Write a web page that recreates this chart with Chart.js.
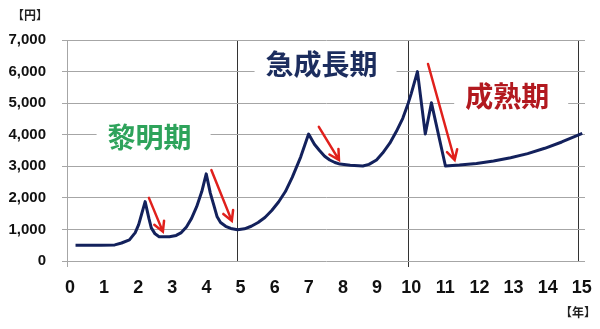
<!DOCTYPE html>
<html>
<head>
<meta charset="utf-8">
<script src="https://cdn.jsdelivr.net/npm/chart.js@4/dist/chart.umd.min.js"></script>
<style>
  html, body { margin: 0; padding: 0; background: #fff; }
  #wrap { width: 600px; height: 329px; }
</style>
</head>
<body>
<div id="wrap"><canvas id="cycleCanvas"></canvas></div>
<script>
// 年 (x) と 価格 (y)
const years = [
  0.25, 1.0, 1.4, 1.6, 1.83, 2.0, 2.1, 2.29, 2.4, 2.47, 2.58, 2.7, 3.0, 3.2, 3.35, 3.5, 3.65, 3.8, 3.95, 4.08,
  4.2, 4.3, 4.4, 4.5, 4.65, 4.8, 5.0, 5.2, 5.4, 5.6, 5.8, 6.0, 6.2, 6.4, 6.6, 6.85, 7.08,
  7.25, 7.4, 7.55, 7.7, 7.85, 8.0, 8.3, 8.67, 8.85, 9.07, 9.25, 9.46, 9.65, 9.84, 10.0, 10.09, 10.27,
  10.5, 10.68, 11.09, 11.5, 12.0, 12.5, 13.0, 13.5, 14.0, 14.5, 15.1
];
const prices = [
  500, 500, 510, 570, 670, 900, 1150, 1880, 1350, 1050, 860, 770, 770, 810, 900, 1080, 1350, 1720, 2200, 2760,
  2150, 1780, 1400, 1220, 1100, 1030, 990, 1020, 1100, 1220, 1380, 1600, 1870, 2200, 2650, 3300, 4020,
  3700, 3500, 3320, 3200, 3120, 3070, 3030, 3010, 3060, 3200, 3420, 3730, 4100, 4520, 5000, 5310, 6000,
  4020, 5010, 3010, 3040, 3090, 3170, 3270, 3400, 3570, 3770, 4040
];

const xTicks = [0, 1, 2, 3, 4, 5, 6, 7, 8, 9, 10, 11, 12, 13, 14, 15];
const yTicks = [0, 1000, 2000, 3000, 4000, 5000, 6000, 7000];
const phaseLines = [5, 10, 15];

// 期の名前
const phaseNames = ["黎明期", "急成長期", "成熟期"];
const phaseX = [2.42, 7.46, 12.9];
const phaseY = [3920, 6230, 5200];
const phaseColors = ["#2ea35b", "#1c2d5e", "#b2191f"];

// 下落を示す矢印 [x0, y0, x1, y1]
const arrowStartX = [2.40, 4.23, 7.38, 10.58];
const arrowStartY = [2000, 2880, 4250, 6240];
const arrowEndX = [2.81, 4.83, 7.97, 11.36];
const arrowEndY = [930, 1270, 3200, 3200];

const points = years.map((x, i) => ({ x: x, y: prices[i] }));

const annotationPlugin = {
  id: "phaseAnnotations",
  beforeDatasetsDraw(chart) {
    const { ctx, scales } = chart;
    ctx.save();
    ctx.font = "bold 28px 'Noto Sans CJK JP'";
    ctx.textAlign = "center";
    ctx.textBaseline = "middle";
    phaseNames.forEach((name, i) => {
      const px = scales.x.getPixelForValue(phaseX[i]);
      const py = scales.y.getPixelForValue(phaseY[i]);
      const w = ctx.measureText(name).width;
      // 文字の後ろの罫線を隠す
      ctx.fillStyle = "#fff";
      ctx.fillRect(px - w / 2 - 11, py - 16, w + 30, 32);
      ctx.fillStyle = phaseColors[i];
      ctx.fillText(name, px, py);
    });
    ctx.restore();
  },
  afterDatasetsDraw(chart) {
    const { ctx, scales } = chart;
    ctx.save();
    ctx.strokeStyle = "#e0201c";
    ctx.lineWidth = 2.5;
    ctx.lineCap = "round";
    arrowStartX.forEach((sx, i) => {
      const x0 = scales.x.getPixelForValue(sx);
      const y0 = scales.y.getPixelForValue(arrowStartY[i]);
      const x1 = scales.x.getPixelForValue(arrowEndX[i]);
      const y1 = scales.y.getPixelForValue(arrowEndY[i]);
      const ang = Math.atan2(y1 - y0, x1 - x0);
      const head = 11;
      ctx.beginPath();
      ctx.moveTo(x0, y0);
      ctx.lineTo(x1, y1);
      ctx.moveTo(x1 - head * Math.cos(ang - 0.5), y1 - head * Math.sin(ang - 0.5));
      ctx.lineTo(x1, y1);
      ctx.lineTo(x1 - head * Math.cos(ang + 0.5), y1 - head * Math.sin(ang + 0.5));
      ctx.stroke();
    });

    // 単位
    ctx.fillStyle = "#222";
    ctx.font = "bold 12px 'Noto Sans CJK JP'";
    ctx.textAlign = "center";
    ctx.textBaseline = "middle";
    ctx.fillText("【円】", 30, 15);
    ctx.fillText("【年】", 578, 312);
    ctx.restore();
  },
};

const config = {
  type: "line",
  data: {
    datasets: [
      {
        data: points,
        borderColor: "#13215c",
        borderWidth: 3,
        pointRadius: 0,
        tension: 0,
        borderJoinStyle: "round",
        fill: false,
      },
    ],
  },
  options: {
    responsive: true,
    maintainAspectRatio: false,
    animation: false,
    layout: {
      padding: { top: 40, right: 15, left: 0, bottom: 0 },
    },
    plugins: {
      legend: { display: false },
      tooltip: { enabled: false },
    },
    scales: {
      x: {
        type: "linear",
        min: 0,
        max: 15.18,
        afterBuildTicks: (scale) => {
          scale.ticks = xTicks.map((v) => ({ value: v }));
        },
        afterFit: (scale) => {
          scale.height = 68;
        },
        border: { display: false },
        grid: {
          drawOnChartArea: true,
          tickLength: 6,
          color: (c) => (phaseLines.includes(c.tick && c.tick.value) ? "#333" : "rgba(0,0,0,0)"),
          tickColor: (c) => {
            const v = c.tick && c.tick.value;
            if (v === 0) return "#a6a6a6";
            if (v === 10) return "#333";
            return "rgba(0,0,0,0)";
          },
        },
        ticks: {
          color: "#111",
          padding: 10,
          labelOffset: 3,
          maxRotation: 0,
          autoSkip: false,
          font: { family: "'Liberation Sans', Arial, sans-serif", size: 18, weight: "bold" },
          callback: (v) => v,
        },
      },
      y: {
        min: 0,
        max: 7000,
        afterBuildTicks: (scale) => {
          scale.ticks = yTicks.map((v) => ({ value: v }));
        },
        afterFit: (scale) => {
          scale.width = 67;
        },
        border: { display: true, color: "#a6a6a6", width: 1 },
        grid: {
          color: "#a6a6a6",
          tickLength: 5,
          tickColor: "#a6a6a6",
        },
        ticks: {
          color: "#111",
          padding: 16,
          font: { family: "'Liberation Sans', Arial, sans-serif", size: 15, weight: "bold" },
          callback: (v) => v.toLocaleString("en-US"),
        },
      },
    },
  },
  plugins: [annotationPlugin],
};

new Chart(document.getElementById("cycleCanvas"), config);
</script>
</body>
</html>
